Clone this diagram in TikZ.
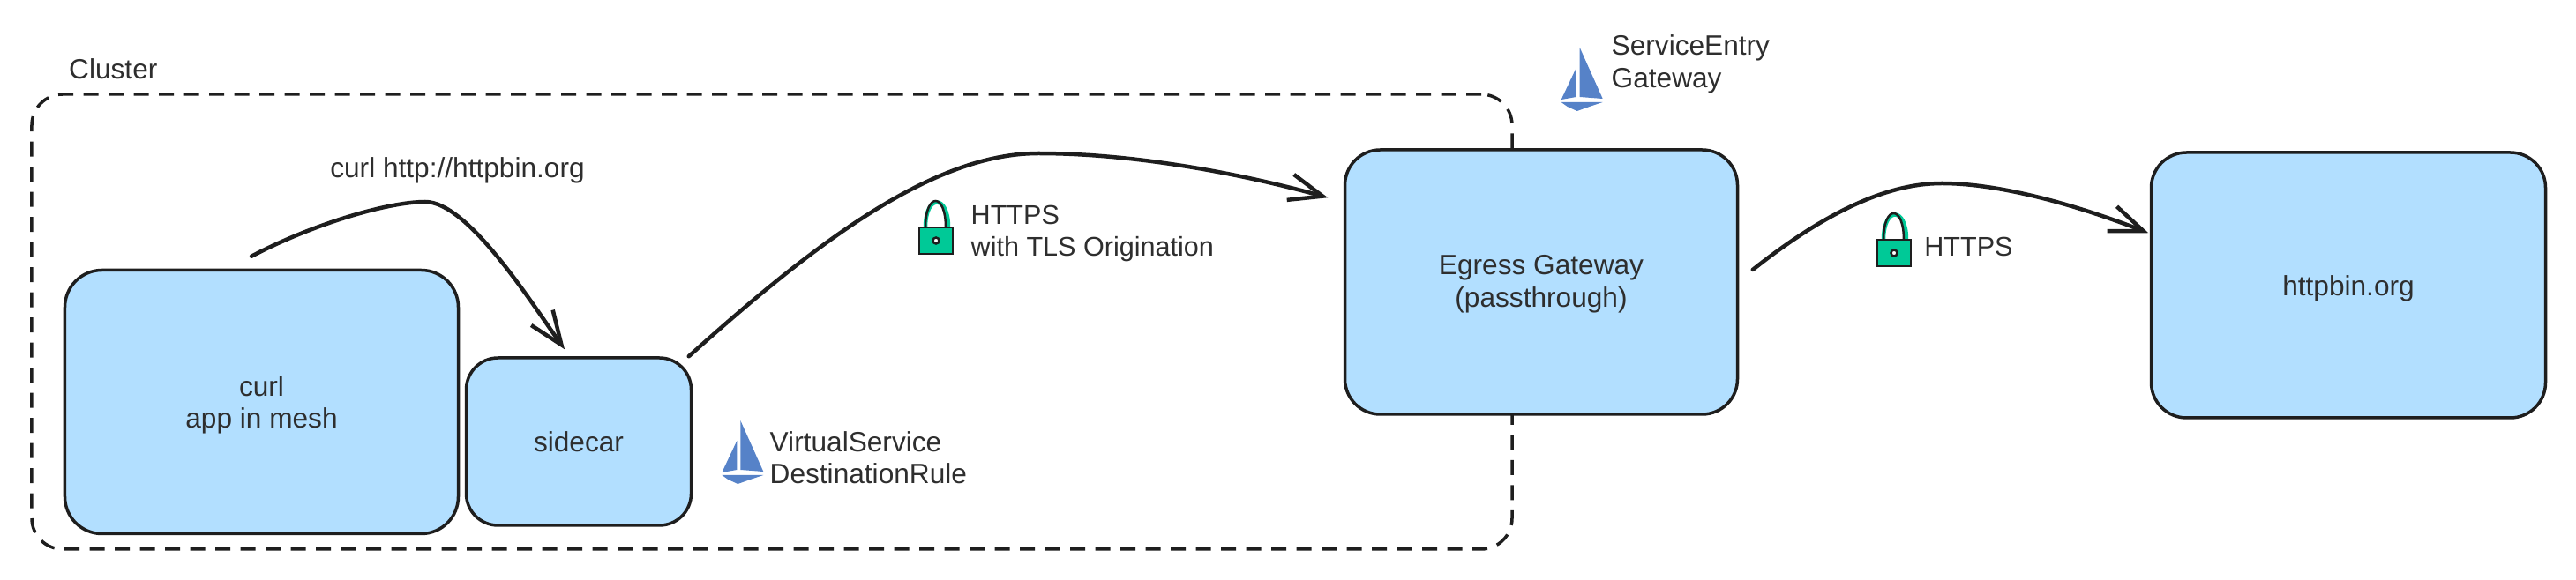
\documentclass[tikz,border=0pt]{standalone}
\usepackage{fontspec}
\setmainfont{Liberation Sans}
\usetikzlibrary{arrows.meta}

\definecolor{boxblue}{HTML}{B2DFFF}
\definecolor{inkdark}{HTML}{1E1E1E}
\definecolor{textdark}{HTML}{2E2E2E}
\definecolor{sailblue}{HTML}{5682C8}
\definecolor{lockgreen}{HTML}{00C997}

\tikzset{
    boxnode/.style={draw=inkdark, fill=boxblue, line width=0.35mm, align=center, text=textdark, inner sep=0pt},
    labeltext/.style={anchor=west, align=left, inner sep=0pt, text=textdark},
    flow/.style={->, draw=inkdark, line width=0.45mm, line cap=round, >={Straight Barb[length=3.8mm,width=3mm]}},
    boat/.pic={
        \fill[sailblue] (0,0) -- (.26,-.58) -- (0,-.56) -- cycle;
        \fill[sailblue] (-.04,-.23) -- (-.04,-.56) -- (-.21,-.59) -- cycle;
        \fill[sailblue] (-.21,-.62) -- (.26,-.62) -- (.11,-.67) -- (-.03,-.72) -- (-.14,-.67) -- cycle;
    },
    padlock/.pic={
        \draw[lockgreen, line width=0.45mm] (.07,.30) .. controls (.07,.68) and (.33,.68) .. (.33,.30);
        \draw[inkdark, line width=0.25mm] (.07,.30) .. controls (.07,.70) and (.30,.70) .. (.30,.30);
        \draw[inkdark, fill=lockgreen, line width=0.2mm] (0,0) rectangle (.38,.30);
        \draw[inkdark, fill=white, line width=0.25mm] (.19,.15) circle (.035);
    }
}

\begin{document}
\begin{tikzpicture}[every node/.style={font=\fontsize{9}{10.4}\selectfont}]
        \useasboundingbox (0,0) rectangle (29.2,6.58);

        \node[draw=inkdark, line width=0.35mm, dash pattern=on 1.7mm off 1.15mm, rounded corners=0.35cm,
            minimum width=16.78cm, minimum height=5.16cm] (cluster) at (8.75,2.93) {};
        \node[labeltext] (clusterlabel) at (0.775,5.795) {Cluster};

        \node[boxnode, rounded corners=0.42cm, minimum width=4.46cm, minimum height=2.99cm] (curlapp) at (2.965,2.02) {\rule{0pt}{8.5pt}curl\\app in mesh};
        \node[boxnode, rounded corners=0.36cm, minimum width=2.55cm, minimum height=1.90cm] (sidecar) at (6.56,1.57) {sidecar};
        \node[boxnode, rounded corners=0.40cm, minimum width=4.45cm, minimum height=3.00cm] (egress) at (17.47,3.38) {\rule{0pt}{7.6pt}Egress Gateway\\(passthrough)};
        \node[boxnode, rounded corners=0.40cm, minimum width=4.47cm, minimum height=3.01cm] (httpbin) at (26.62,3.345) {\rule{0pt}{8.5pt}httpbin.org};

        \draw[flow] ([shift={(-.115,.14)}]curlapp.north)
            .. controls (3.55,4.04) and (4.40,4.29) .. (4.82,4.29)
            .. controls (5.30,4.29) and (6.00,3.18) .. ([shift={(-.16,.08)}]sidecar.north);
        \draw[flow] ([shift={(-.045,0)}]sidecar.north east)
            .. controls (9.30,3.88) and (10.60,4.84) .. (11.77,4.84)
            .. controls (12.80,4.84) and (14.00,4.63) .. ([shift={(-.175,-.56)}]egress.north west);
        \draw[flow] ([shift={(.155,.14)}]egress.east)
            .. controls (20.70,4.18) and (21.40,4.50) .. (22.01,4.50)
            .. controls (22.70,4.50) and (23.60,4.23) .. ([shift={(-.015,-.93)}]httpbin.north west);

        \node[labeltext, anchor=center] (curllabel) at (5.185,4.65) {curl http://httpbin.org};

        \pic (boatvs) at (8.393,1.81) {boat};
        \node[labeltext] (vslabel) at (8.72,1.39) {VirtualService\\DestinationRule};

        \pic (boatse) at (17.907,6.04) {boat};
        \node[labeltext] (selabel) at (18.26,5.85) {ServiceEntry\\Gateway};

        \pic (locktls) at (10.42,3.70) {padlock};
        \node[labeltext, font=\fontsize{8.7}{10.4}\selectfont] (tlslabel) at (11.00,3.93) {HTTPS\\with TLS Origination};

        \pic (lockhttps) at (21.28,3.56) {padlock};
        \node[labeltext, font=\fontsize{8.7}{10.4}\selectfont] (httpslabel) at (21.806,3.78) {HTTPS};
\end{tikzpicture}
\end{document}
